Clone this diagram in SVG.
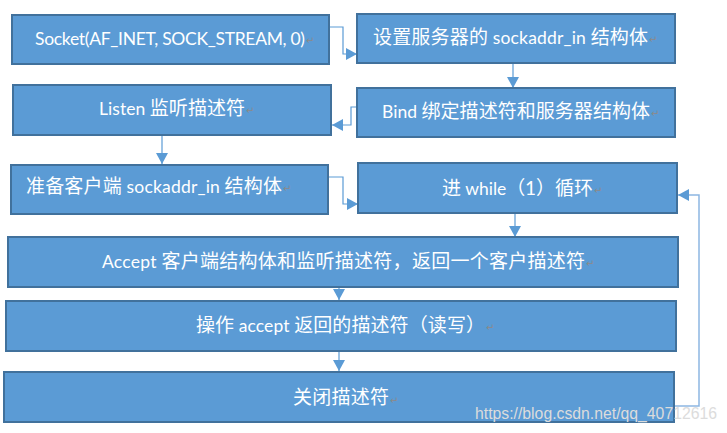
<svg xmlns="http://www.w3.org/2000/svg" width="727" height="433" viewBox="0 0 727 433">
<style>
.box{fill:#5B9BD5;stroke:#41719C;stroke-width:2}
.t{font-family:Lato,"Noto Sans CJK SC",sans-serif;font-size:17.5px;fill:#ffffff}
.cj{font-size:19px}
.pm{font-family:"DejaVu Sans",sans-serif;font-size:10px;fill:#8a8a8a}
.c{fill:none;stroke:#5B9BD5;stroke-width:1.2}
.loop{fill:none;stroke:#8DB6E2;stroke-width:1.5}
.wm{font-family:"Liberation Sans",sans-serif;font-size:16px;fill:#dcdcdc}
</style>
<defs>
<marker id="ah" markerUnits="userSpaceOnUse" markerWidth="12" markerHeight="12" refX="11" refY="6" orient="auto">
<path d="M0,0 L11,6 L0,12 Z" fill="#5B9BD5"/>
</marker>
</defs>
<rect width="727" height="433" fill="#ffffff"/>
<g id="connectors">
<path class="c" d="M329,27 H343 V54 H357" marker-end="url(#ah)"/>
<path class="c" d="M513,63 V88" marker-end="url(#ah)"/>
<path class="c" d="M357,107 H351 V125 H332" marker-end="url(#ah)"/>
<path class="c" d="M162,135 V164" marker-end="url(#ah)"/>
<path class="c" d="M328,177 H343 V204 H358" marker-end="url(#ah)"/>
<path class="c" d="M515,213 V237" marker-end="url(#ah)"/>
<path class="c" d="M339,287 V300" marker-end="url(#ah)"/>
<path class="c" d="M339,351 V371" marker-end="url(#ah)"/>
<path class="loop" d="M674,406 H699 V195 H678" marker-end="url(#ah)"/>
</g>
<g id="n1">
<rect class="box" x="12" y="15" width="317" height="49"/>
<text class="t" x="35" y="45" textLength="270">Socket(AF_INET, SOCK_STREAM, 0)</text>
<text class="pm" x="306" y="44">↵</text>
</g>
<g id="n2">
<rect class="box" x="357" y="14" width="318" height="49"/>
<text class="t" x="373" y="44" textLength="275"><tspan class="cj">设置服务器的</tspan> sockaddr_in <tspan class="cj">结构体</tspan></text>
<text class="pm" x="649" y="43">↵</text>
</g>
<g id="n3">
<rect class="box" x="13" y="85" width="318" height="50"/>
<text class="t" x="99" y="115" textLength="146">Listen <tspan class="cj">监听描述符</tspan></text>
<text class="pm" x="246" y="114">↵</text>
</g>
<g id="n4">
<rect class="box" x="357" y="88" width="318" height="49"/>
<text class="t" x="382" y="118" textLength="268">Bind <tspan class="cj">绑定描述符和服务器结构体</tspan></text>
<text class="pm" x="651" y="117">↵</text>
</g>
<g id="n5">
<rect class="box" x="11" y="165" width="317" height="49"/>
<text class="t" x="26" y="193" textLength="256"><tspan class="cj">准备客户端</tspan> sockaddr_in <tspan class="cj">结构体</tspan></text>
<text class="pm" x="283" y="192">↵</text>
</g>
<g id="n6">
<rect class="box" x="358" y="163" width="319" height="50"/>
<text class="t" x="442" y="195" textLength="151"><tspan class="cj">进</tspan> while<tspan class="cj">（1）循环</tspan></text>
<text class="pm" x="594" y="194">↵</text>
</g>
<g id="n7">
<rect class="box" x="8" y="237" width="670" height="50"/>
<text class="t" x="102" y="268" textLength="483">Accept <tspan class="cj">客户端结构体和监听描述符，返回一个客户描述符</tspan></text>
<text class="pm" x="586" y="267">↵</text>
</g>
<g id="n8">
<rect class="box" x="6" y="301" width="670" height="50"/>
<text class="t" x="196" y="332" textLength="289"><tspan class="cj">操作</tspan> accept <tspan class="cj">返回的描述符（读写）</tspan></text>
<text class="pm" x="486" y="331">↵</text>
</g>
<g id="n9">
<rect class="box" x="4" y="372" width="670" height="50"/>
<text class="t" x="293" y="404" textLength="96"><tspan class="cj">关闭描述符</tspan></text>
<text class="pm" x="390" y="404">↵</text>
</g>
<text class="wm" x="475" y="419" textLength="242" lengthAdjust="spacingAndGlyphs">https://blog.csdn.net/qq_40712616</text>
</svg>
